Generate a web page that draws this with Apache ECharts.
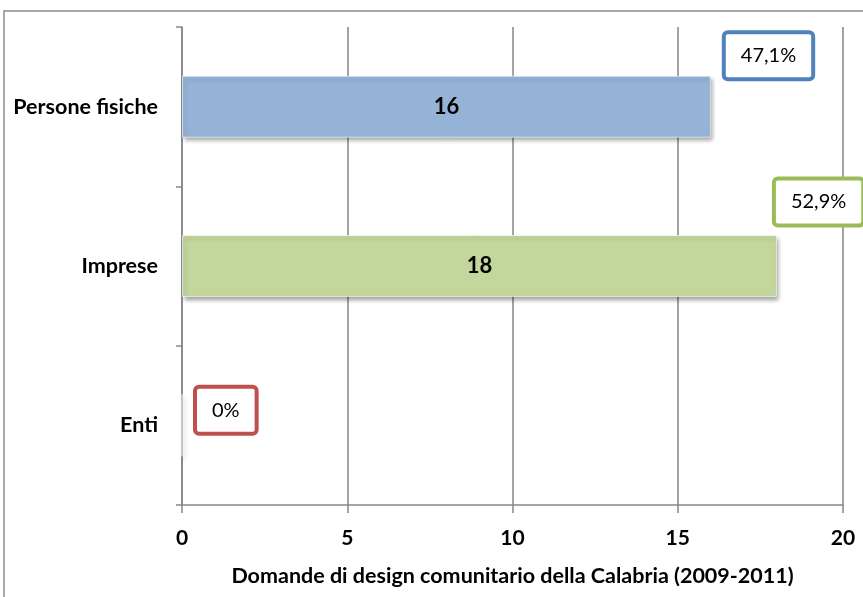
<!DOCTYPE html>
<html><head><meta charset="utf-8">
<script src="https://cdn.jsdelivr.net/npm/echarts@6/dist/echarts.min.js"></script>
<style>html,body{margin:0;padding:0;background:#fff}#c{width:863px;height:597px}</style>
</head><body><div id="c"></div>
<script>
const categories = ["Persone fisiche", "Imprese", "Enti"];
const values = [16, 18, 0];
const percentLabels = ["47,1%", "52,9%", "0%"];
const barColors = ["#95B3D7", "#C3D69B", "#E6B9B8"];
const boxColors = ["#4F81BD", "#9BBB59", "#C0504D"];
const labelOffsets = [[10, -51], [-6, -64], [10, -15]];
const xTicks = [0, 5, 10, 15, 20];
const axisTitle = "Domande di design comunitario della Calabria (2009-2011)";
const FONT = "Lato";

const chart = echarts.init(document.getElementById('c'));
chart.setOption({
  animation: false,
  textStyle: { fontFamily: FONT },
  graphic: [{
    type: 'rect', shape: { x: 4, y: 11, width: 870, height: 600 },
    style: { fill: 'none', stroke: '#8c8c8c', lineWidth: 1.5 }, z: -1
  }],
  grid: { left: 182, right: 20, top: 27, bottom: 92 },
  xAxis: {
    type: 'value', min: xTicks[0], max: xTicks[xTicks.length - 1], interval: 5,
    name: axisTitle, nameLocation: 'middle', nameGap: 60,
    nameTextStyle: { fontFamily: FONT, fontWeight: 'bold', fontSize: 21.5, color: '#000' },
    axisLine: { show: true, lineStyle: { color: '#868686', width: 1.5 } },
    axisTick: { show: true, length: 8, lineStyle: { color: '#868686', width: 1.5 } },
    axisLabel: { fontFamily: FONT, fontWeight: 'bold', fontSize: 21, color: '#000', margin: 23 },
    splitLine: { show: true, lineStyle: { color: '#868686', width: 1.5 } }
  },
  yAxis: {
    type: 'category', data: categories, inverse: true,
    axisLine: { show: true, lineStyle: { color: '#868686', width: 1.5 } },
    axisTick: { show: true, length: 6, lineStyle: { color: '#868686', width: 1.5 } },
    axisLabel: { fontFamily: FONT, fontWeight: 'bold', fontSize: 21.5, color: '#000', margin: 24 }
  },
  series: [{
    type: 'bar', barWidth: 62,
    data: values.map((v, i) => ({ value: v, itemStyle: { color: barColors[i] } })),
    itemStyle: {
      shadowColor: 'rgba(0,0,0,0.35)', shadowBlur: 4, shadowOffsetX: 2, shadowOffsetY: 3,
      borderColor: 'rgba(255,255,255,0.6)', borderWidth: 1
    },
    label: {
      show: true, position: 'inside', fontFamily: FONT, fontWeight: 'bold', fontSize: 22, color: '#000',
      formatter: p => p.value > 0 ? String(p.value) : ''
    },
    z: 3
  }, {
    type: 'bar', barWidth: 62, barGap: '-100%', silent: true,
    itemStyle: { color: 'rgba(0,0,0,0)' },
    data: values.map((v, i) => ({
      value: v,
      label: {
        show: true, position: 'right', offset: labelOffsets[i],
        formatter: percentLabels[i],
        borderColor: boxColors[i], borderWidth: 4, borderRadius: 2,
        backgroundColor: '#fff', padding: [12, 15, 11, 15],
        fontFamily: FONT, fontSize: 20, color: '#000'
      }
    })),
    z: 4
  }]
});
</script></body></html>
